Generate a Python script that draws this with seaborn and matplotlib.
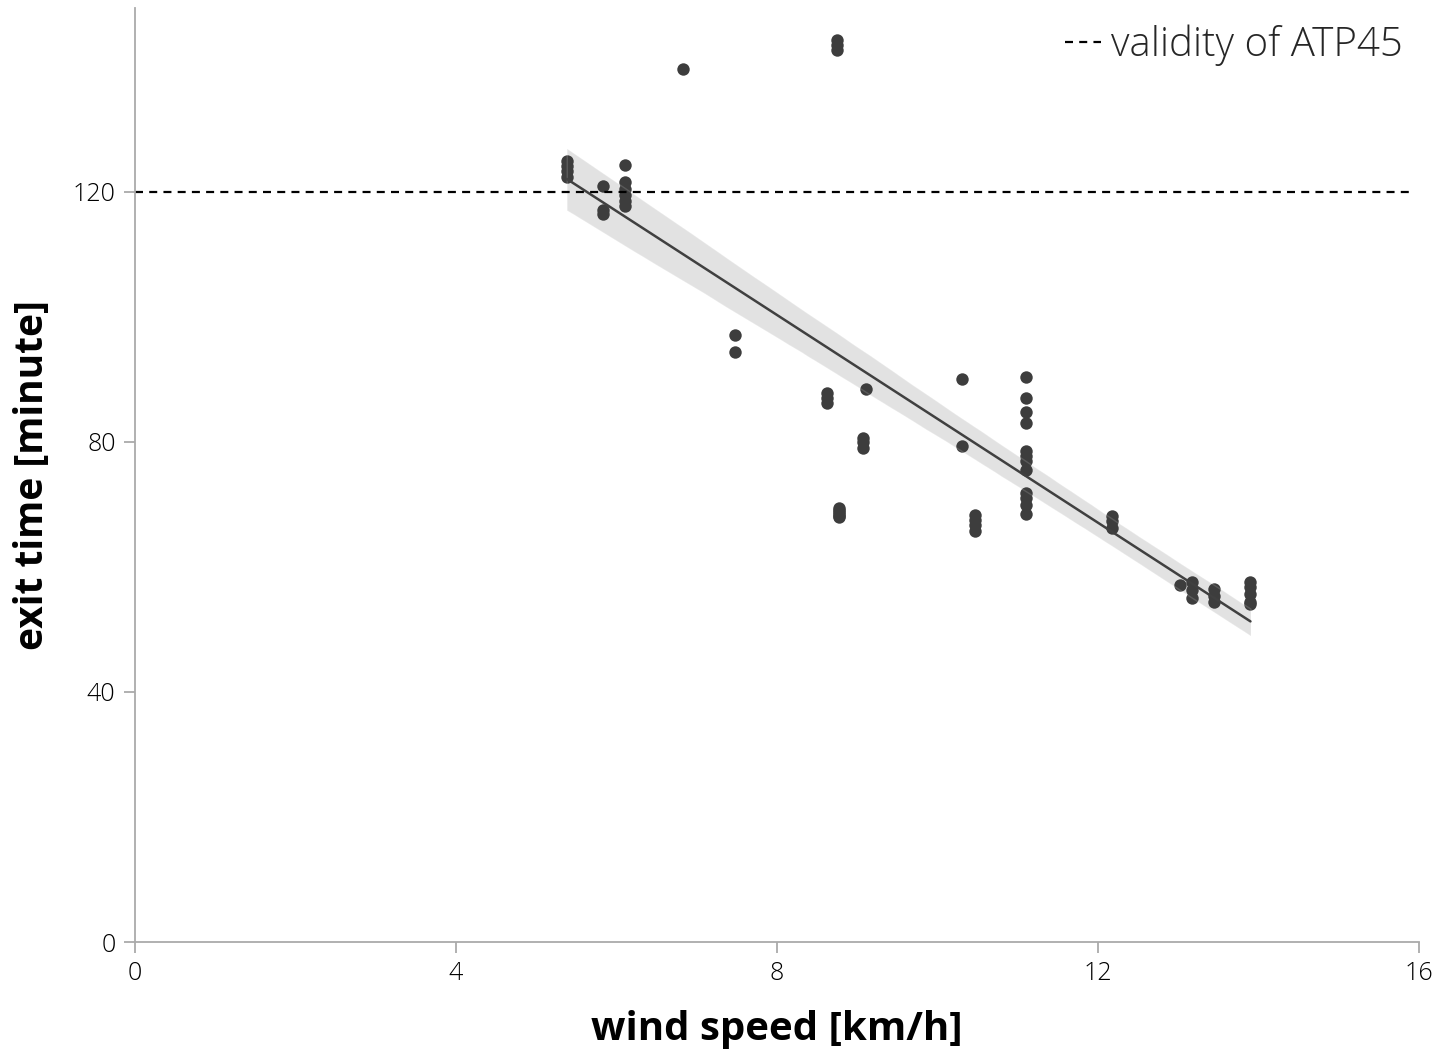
import numpy as np
import pandas as pd
import matplotlib
matplotlib.use("Agg")
import matplotlib.pyplot as plt
import seaborn as sns

# data
wind_speed = [5.38, 5.38, 5.38, 5.38,
              5.83, 5.83, 5.83,
              6.1, 6.1, 6.1, 6.1, 6.1, 6.1,
              6.83,
              8.75, 8.75, 8.75,
              7.48, 7.48,
              8.62, 8.62, 8.62,
              9.11,
              9.07, 9.07, 9.07,
              8.77, 8.77, 8.77, 8.77, 8.77, 8.77,
              10.3, 10.3,
              10.47, 10.47, 10.47, 10.47,
              11.1, 11.1, 11.1, 11.1, 11.1, 11.1, 11.1, 11.1, 11.1, 11.1, 11.1, 11.1,
              12.17, 12.17, 12.17,
              13.02,
              13.17, 13.17, 13.17,
              13.45, 13.45, 13.45,
              13.9, 13.9, 13.9, 13.9, 13.9]
exit_time = [125.0, 124.2, 123.4, 122.3,
             121.0, 117.1, 116.5,
             124.3, 121.6, 120.5, 119.5, 118.5, 117.8,
             139.7,
             144.3, 143.5, 142.7,
             97.1, 94.4,
             87.8, 87.0, 86.2,
             88.5,
             80.6, 80.0, 79.0,
             69.4, 69.1, 68.8, 68.5, 68.2, 68.0,
             90.1, 79.4,
             68.3, 67.5, 66.7, 65.8,
             90.4, 87.0, 84.8, 83.0, 78.6, 77.8, 77.0, 75.5, 71.8, 71.0, 69.9, 68.5,
             68.2, 67.4, 66.2,
             57.1,
             57.6, 56.3, 55.0,
             56.5, 55.4, 54.4,
             57.6, 56.8, 55.7, 54.4, 54.1]
validity_limit = 120
x_ticks = [0, 4, 8, 12, 16]
y_ticks = [0, 40, 80, 120]

df = pd.DataFrame({"wind": wind_speed, "exit": exit_time})

sns.set_theme(style="white")
plt.rcParams['font.family'] = ['Open Sans', 'DejaVu Sans']

fig = plt.figure(figsize=(14.36, 10.53), dpi=100)
ax = fig.add_axes([135/1436, 111/1053, (1419-135)/1436, (942-8)/1053])

dark = "#3d3d3d"
sns.regplot(data=df, x="wind", y="exit", ax=ax, color=dark, ci=87, seed=1,
            scatter_kws=dict(s=80, alpha=1, linewidths=0),
            line_kws=dict(lw=1.8, color="#404040"))

ax.axhline(validity_limit, color="black", ls=(0, (3.6, 2.8)), lw=1.6,
           xmax=0.995, label="validity of ATP45")

ax.set_xlim(0, 16)
ax.set_ylim(0, 149.4)
ax.set_xticks(x_ticks)
ax.set_yticks(y_ticks)
ax.set_xticklabels([str(t) for t in x_ticks], fontsize=18, fontweight="light")
ax.set_yticklabels([str(t) for t in y_ticks], fontsize=18, fontweight="light")
ax.tick_params(axis="both", which="major", direction="out", length=8,
               width=1.3, color="#aaaaaa", labelcolor="black", pad=6,
               left=True, bottom=True)

for side in ["top", "right"]:
    ax.spines[side].set_visible(False)
for side in ["left", "bottom"]:
    ax.spines[side].set_color("#aaaaaa")
    ax.spines[side].set_linewidth(1.3)

ax.set_xlabel("wind speed [km/h]", fontsize=29, fontweight="bold", labelpad=17,
              color="black")
ax.set_ylabel("exit time [minute]", fontsize=28, fontweight="bold", labelpad=15,
              color="black")

leg = ax.legend(loc="upper right", frameon=False, fontsize=29,
                handlelength=0.9, handletextpad=0.25, borderaxespad=0.1,
                borderpad=0.3, bbox_to_anchor=(1.0, 1.0))
for t in leg.get_texts():
    t.set_fontweight("light")

fig.savefig("out.png", dpi=100)
